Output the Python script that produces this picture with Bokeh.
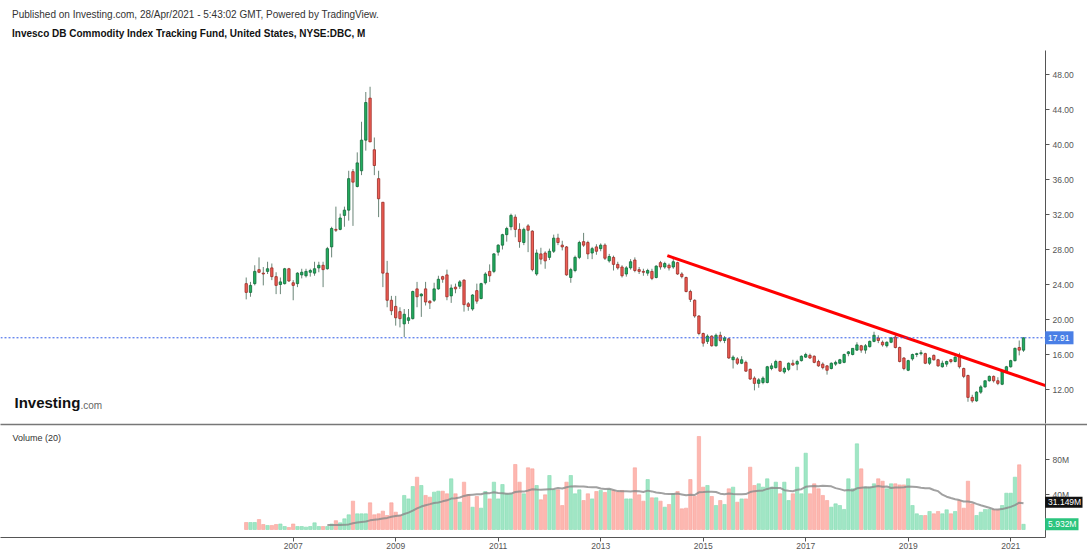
import numpy as np
import pandas as pd
from bokeh.plotting import figure
from bokeh.layouts import column
from bokeh.models import Range1d, FixedTicker, Span, Label, ColumnDataSource
from bokeh.core.properties import value
from bokeh.embed import file_html
from bokeh.resources import INLINE

FONT = "Liberation Sans"

# ---------------- data (monthly, Feb 2006 .. Apr 2021) ----------------
first_month = "2006-02-01"

opens = [24.1,23.1,24.1,25.7,25.3,25.5,25.9,24.9,24.0,24.1,25.8,
 24.2,24.1,25.1,25.0,25.4,25.3,25.9,26.2,25.8,28.3,30.3,30.3,
 31.9,32.5,36.9,35.2,37.0,40.5,45.3,39.4,36.1,33.4,25.3,22.2,
 21.5,20.9,19.5,19.9,20.1,23.5,22.7,23.5,22.1,22.2,23.5,24.9,
 25.1,22.7,23.7,23.8,24.5,21.8,21.2,23.3,22.4,24.2,25.5,25.5,
 27.7,28.5,29.7,30.6,31.7,30.3,28.8,30.7,30.1,25.2,27.5,27.6,
 27.1,27.8,29.3,28.5,28.3,24.8,25.6,27.1,28.9,28.8,27.6,28.3,
 28.1,28.5,26.7,27.1,26.3,26.0,25.2,25.9,26.8,25.7,25.5,25.3,
 25.5,24.8,26.5,26.0,26.2,26.0,26.5,25.2,24.8,23.2,22.2,20.4,
 18.4,17.5,18.1,17.0,18.2,17.6,17.8,15.4,15.5,15.0,15.1,14.3,
 13.3,12.7,12.8,12.8,14.4,14.5,15.2,14.0,14.3,15.0,14.9,15.3,
 15.7,15.9,15.8,15.2,14.9,14.7,14.4,14.9,15.0,15.1,16.1,16.0,
 16.5,17.0,16.5,16.9,17.5,17.9,17.4,17.0,17.4,18.0,16.8,15.6,
 14.2,15.5,16.0,16.1,16.1,15.0,15.9,15.4,14.6,14.9,15.4,15.2,
 15.9,14.4,13.6,11.1,10.7,11.7,12.3,13.0,13.5,13.0,12.6,14.1,
 14.6,15.3,16.8,16.5]

highs = [24.8,24.3,26.2,27.1,26.0,26.6,26.4,25.4,24.8,25.9,25.9,
 24.5,25.4,25.8,25.8,25.8,26.6,26.6,26.6,28.3,30.6,32.9,32.1,
 32.9,37.0,37.2,39.1,42.6,46.0,46.6,40.8,37.0,33.4,26.7,22.7,
 22.7,21.4,21.2,21.2,23.3,24.3,23.0,24.3,22.2,24.2,25.0,25.0,
 25.7,24.0,24.1,24.5,24.6,22.0,22.9,24.1,24.2,25.4,26.3,27.6,
 28.6,29.8,30.6,32.1,32.0,31.0,30.5,30.9,30.2,28.0,28.2,27.8,
 28.1,29.7,29.8,29.0,28.4,25.9,27.3,29.0,29.9,29.0,28.3,28.6,
 28.7,28.7,27.5,27.3,26.6,26.2,26.1,26.9,27.1,26.0,25.8,25.8,
 25.8,26.2,26.7,26.6,26.4,27.0,26.6,25.4,24.9,23.4,22.3,20.5,
 18.5,18.3,18.2,18.4,18.6,18.1,17.9,15.9,15.7,15.8,15.3,14.4,
 13.5,13.3,13.5,14.7,15.0,15.4,15.3,14.6,15.1,15.4,15.4,15.9,
 16.2,16.1,15.9,15.4,15.1,14.8,15.1,15.3,15.5,16.1,16.4,16.7,
 17.4,17.1,17.2,17.6,18.6,18.2,17.6,17.5,18.0,18.4,16.9,15.7,
 15.4,16.1,16.2,16.5,16.2,15.7,16.0,15.5,15.3,15.3,15.5,15.8,
 16.2,14.5,13.7,11.4,11.8,12.5,13.0,13.6,13.6,13.4,14.2,14.7,
 15.4,16.8,17.6,17.95]

lows = [22.3,22.6,23.9,25.3,23.9,25.2,24.5,22.9,22.9,24.0,24.3,
 22.2,23.7,24.7,24.8,24.9,25.0,25.4,23.7,25.7,27.1,30.0,30.2,
 30.6,31.3,30.7,35.1,36.5,39.3,40.3,36.5,31.7,23.7,21.4,20.5,
 19.3,19.1,18.0,19.5,20.0,21.4,20.3,21.6,21.2,22.0,23.4,24.2,
 22.2,21.9,23.0,23.5,20.9,21.0,21.0,21.8,22.3,24.0,24.3,25.3,
 27.3,28.0,28.9,30.2,29.4,28.2,28.5,27.7,25.5,25.0,26.3,25.8,
 26.8,27.6,28.5,27.9,25.0,24.2,25.4,26.9,28.3,26.9,26.9,27.4,
 27.8,26.8,26.5,25.6,25.7,24.8,24.9,25.7,25.4,25.2,25.0,25.0,
 24.5,24.7,25.7,25.8,25.6,25.8,25.1,24.7,23.1,22.0,20.2,18.2,
 16.9,17.2,16.9,16.9,17.4,17.3,15.5,14.4,14.8,14.9,14.0,13.1,
 11.9,12.2,12.6,12.7,14.2,14.4,14.0,13.8,14.1,14.7,14.2,15.2,
 15.6,15.5,15.0,14.6,14.3,13.7,14.3,14.7,14.9,15.0,15.8,15.9,
 16.4,16.2,16.1,16.8,17.4,17.3,16.9,16.8,17.3,16.7,15.1,14.2,
 14.1,15.3,15.7,15.9,14.9,14.8,15.3,14.6,14.5,14.6,15.0,15.1,
 14.4,13.3,10.6,10.5,10.6,11.5,12.2,12.9,12.8,12.5,12.5,14.0,
 14.5,15.2,15.9,16.3]

closes = [23.1,23.9,25.5,25.4,25.2,25.8,24.9,23.9,24.3,25.8,24.4,
 23.9,25.3,25.4,25.5,25.6,25.8,26.2,25.7,28.1,30.4,30.2,31.6,
 32.5,36.1,35.7,37.9,40.5,44.8,40.3,37.6,33.8,25.3,22.2,21.0,
 20.2,20.1,20.6,20.2,23.2,22.6,22.9,22.0,21.9,23.5,24.6,24.6,
 22.6,23.6,23.5,24.3,21.7,21.5,22.8,22.1,24.1,25.2,25.0,27.5,
 28.5,29.7,30.4,31.9,30.3,28.9,30.3,30.2,25.7,27.6,26.9,26.7,
 27.8,29.3,28.8,28.3,25.1,25.7,27.1,28.8,28.5,27.5,28.1,27.8,
 28.5,27.0,27.2,26.3,25.9,25.0,25.9,26.6,25.6,25.5,25.4,25.6,
 24.7,26.1,26.0,26.4,25.9,26.6,25.2,24.9,23.2,22.3,20.4,18.4,
 17.3,18.1,17.0,18.2,17.6,17.9,15.6,15.7,15.0,15.4,14.1,13.2,
 12.7,13.1,13.3,14.6,14.7,15.2,14.1,14.4,15.0,14.8,15.2,15.8,
 16.0,15.6,15.1,14.7,14.5,14.2,15.0,15.1,15.4,16.0,16.3,16.7,
 17.1,16.5,17.0,17.5,18.2,17.6,17.1,17.4,17.9,16.8,15.2,14.4,
 15.3,16.0,16.1,16.2,15.0,15.6,15.4,14.7,15.0,15.2,15.2,15.7,
 14.6,13.5,11.1,10.7,11.7,12.3,13.0,13.5,13.0,12.7,14.1,14.6,
 15.3,16.7,16.5,17.91]

volumes_m = [8.0,8.0,8.0,11.4,5.7,4.6,4.6,5.7,6.3,3.4,2.3,
 6.3,3.4,3.4,2.7,3.4,7.6,3.4,3.4,3.4,6.3,10.1,7.6,
 12.2,16.8,32.4,17.9,17.9,17.9,30.5,16.8,17.9,21.0,16.0,30.5,
 19.8,16.0,38.9,35.0,49.1,59.8,50.3,38.9,37.0,42.7,43.8,43.8,
 40.8,57.9,40.8,31.2,54.1,40.0,25.5,37.7,24.4,43.4,35.0,54.1,
 35.0,51.4,40.8,40.8,74.3,54.1,40.8,70.5,69.3,50.3,33.9,39.6,
 61.7,45.3,45.3,27.4,54.1,61.7,40.8,45.3,33.1,40.8,35.0,43.4,
 44.6,42.3,45.7,44.6,43.0,44.6,35.0,35.0,70.5,39.6,32.4,57.1,
 36.2,36.2,32.4,25.5,28.6,40.8,43.4,23.6,24.4,57.1,38.1,106.3,
 48.4,50.3,37.7,27.4,33.1,28.6,46.5,48.4,31.2,35.0,35.0,71.2,
 50.3,52.2,48.4,57.9,48.4,54.1,40.8,54.1,33.1,40.8,71.2,40.8,
 87.2,40.8,52.2,46.5,38.9,33.1,25.5,29.3,27.4,22.9,57.9,46.5,
 97.9,69.3,48.4,48.4,52.2,57.9,55.2,46.5,52.2,52.2,51.0,51.0,
 57.9,27.4,17.9,16.0,16.0,20.6,17.9,20.6,17.9,22.5,17.9,20.6,
 33.1,24.4,55.2,29.3,16.0,19.8,22.9,22.9,22.5,22.5,27.4,41.5,
 41.5,59.8,73.9,5.932]

last_price = 17.91
last_volume = 5.932
volume_ma_last = 31.149

# trend line drawn on the chart (year, price)
trend_years = [2014.30, 2021.68]
trend_prices = [27.3, 12.45]

price_ticks = [12, 16, 20, 24, 28, 32, 36, 40, 44, 48]
price_tick_labels = ["12.00", "16.00", "20.00", "24.00", "28.00", "32.00", "36.00", "40.00", "44.00", "48.00"]
volume_ticks = [40, 80]
volume_tick_labels = ["40M", "80M"]
year_ticks = [2007, 2009, 2011, 2013, 2015, 2017, 2019, 2021]
year_tick_labels = ["2007", "2009", "2011", "2013", "2015", "2017", "2019", "2021"]

title_line1 = "Published on Investing.com, 28/Apr/2021 - 5:43:02 GMT, Powered by TradingView."
title_line2 = "Invesco DB Commodity Index Tracking Fund, United States, NYSE:DBC, M"

# ---------------- styling ----------------
UP_FILL, UP_LINE = "#22ad5f", "#106b38"
DN_FILL, DN_LINE = "#ef5e55", "#9b2b25"
WICK = "#6a8577"
VUP, VDN = "#a0e6c5", "#fdb7b0"
VUP_L, VDN_L = "#84dbb1", "#f8a39b"
AXIS_C = "#555555"
TXT_C = "#555555"

W = 1087
FRAME_W = 1045
PX_YEAR = 51.25
X0 = 2001.289
X1 = X0 + FRAME_W / PX_YEAR
X_EDGE = X0 + W / PX_YEAR
EPS = 0.4 / PX_YEAR

# ---------------- derived ----------------
dates = pd.date_range(first_month, periods=len(closes), freq="MS")
t = np.asarray(dates.year + (dates.month - 1) / 12.0, dtype=float)
o = np.array(opens); c = np.array(closes)
up = c >= o
src = ColumnDataSource(dict(
    t=t, o=o, h=highs, l=lows, c=c,
    top=np.maximum(o, c), bot=np.minimum(o, c),
    fill=[UP_FILL if u else DN_FILL for u in up],
    line=[UP_LINE if u else DN_LINE for u in up],
    vol=volumes_m,
    vfill=[VUP if u else VDN for u in up],
    vline=[VUP_L if u else VDN_L for u in up],
))
ma = pd.Series(volumes_m).rolling(20).mean()
ma_src = ColumnDataSource(dict(t=t[19:], ma=ma.values[19:]))

xr = Range1d(X0, X1)


def value_tag(fig, yval, text, color, box_px_w, box_px_h, px_per_unit):
    """Coloured last-value tag sitting on the right price/volume scale."""
    half = box_px_h / 2 / px_per_unit
    fig.quad(left=[X1 - EPS], right=[X1 + box_px_w / PX_YEAR], bottom=[yval - half],
             top=[yval + half], fill_color=color, line_color=None, level="overlay")
    fig.text(x=[X1 - EPS], y=[yval], text=[text], x_offset=3, text_color="white",
             text_font=value(FONT), text_font_size="8.5px", text_baseline="middle",
             level="overlay")


# ---------------- header ----------------
h = figure(width=W, height=50, x_range=Range1d(0, W), y_range=Range1d(50, 0),
           output_backend="svg", toolbar_location=None, min_border=0,
           x_axis_location=None, y_axis_location=None, outline_line_color=None)
h.grid.visible = False
h.add_layout(Label(x=12, y=14, text=title_line1, text_font=FONT, text_font_size="10px",
                   text_color="#333333", text_baseline="middle"))
h.add_layout(Label(x=12, y=33, text=title_line2, text_font=FONT, text_font_size="10px",
                   text_font_style="bold", text_color="#111111", text_baseline="middle"))

# ---------------- price panel ----------------
P_TOP, P_BOT = 50, 423
PX_PER = 8.75
y_end = 48 + (74 - P_TOP) / PX_PER
y_start = 48 - (P_BOT - 74) / PX_PER
p = figure(width=W, height=P_BOT - P_TOP, x_range=xr, y_range=Range1d(y_start, y_end),
           output_backend="svg", toolbar_location=None, x_axis_location=None,
           y_axis_location="right", min_border_left=0, min_border_right=W - FRAME_W,
           min_border_top=0, min_border_bottom=0, outline_line_color=None)
p.grid.visible = False
ya = p.yaxis[0]
ya.ticker = FixedTicker(ticks=price_ticks)
ya.major_label_overrides = {float(k): s for k, s in zip(price_ticks, price_tick_labels)}
ya.axis_line_color = AXIS_C
ya.major_tick_line_color = AXIS_C
ya.major_tick_out = 4
ya.major_tick_in = 0
ya.minor_tick_line_color = None
ya.major_label_standoff = 3
ya.major_label_text_font = FONT
ya.major_label_text_font_size = "8.5px"
ya.major_label_text_color = TXT_C

p.add_layout(Span(location=last_price, dimension="width", line_color="#2f5be8",
                  line_dash="2 2", line_width=1))
p.segment(x0="t", y0="l", x1="t", y1="h", source=src, line_color=WICK, line_width=1)
p.vbar(x="t", width=0.55 / 12, top="top", bottom="bot", fill_color="fill",
       line_color="line", line_width=0.8, source=src)
p.line(x=trend_years, y=trend_prices, line_color="#ff0000", line_width=3)

value_tag(p, last_price, f"{last_price:.2f}", "#4a7fe6", 28, 13, PX_PER)

p.add_layout(Label(x=14, y=13, x_units="screen", y_units="screen", text="Investing",
                   text_font=FONT, text_font_size="15px", text_font_style="bold",
                   text_color="#111111"))
p.add_layout(Label(x=80, y=13, x_units="screen", y_units="screen", text=".com",
                   text_font=FONT, text_font_size="10px", text_color="#666666"))

# ---------------- volume panel ----------------
V_TOP, V_BOT, V_ZERO = 423, 537, 529
VPX = 0.875
v_end = (V_ZERO - V_TOP) / VPX
v_start = -(V_BOT - V_ZERO) / VPX
v = figure(width=W, height=555 - V_TOP, x_range=xr, y_range=Range1d(v_start, v_end),
           output_backend="svg", toolbar_location=None, y_axis_location="right",
           min_border_left=0, min_border_right=W - FRAME_W, min_border_top=0,
           min_border_bottom=555 - V_BOT, outline_line_color=None)
v.grid.visible = False
vy = v.yaxis[0]
vy.ticker = FixedTicker(ticks=volume_ticks)
vy.major_label_overrides = {float(k): s for k, s in zip(volume_ticks, volume_tick_labels)}
vx = v.xaxis[0]
vx.ticker = FixedTicker(ticks=year_ticks)
vx.major_label_overrides = {float(k): s for k, s in zip(year_ticks, year_tick_labels)}
for ax in (vy, vx):
    ax.axis_line_color = AXIS_C
    ax.major_tick_line_color = AXIS_C
    ax.major_tick_out = 4
    ax.major_tick_in = 0
    ax.minor_tick_line_color = None
    ax.major_label_text_font = FONT
    ax.major_label_text_font_size = "8.5px"
    ax.major_label_text_color = TXT_C
vy.major_label_standoff = 3
vx.major_label_standoff = 1

# pane separator across the full width
sep_y = v_end - 0.9 / VPX
v.segment(x0=[X0], y0=[sep_y], x1=[X_EDGE], y1=[sep_y], line_color="#777777",
          line_width=1.5, level="overlay")

v.vbar(x="t", width=0.78 / 12, top="vol", bottom=0, fill_color="vfill",
       line_color="vline", line_width=0.6, source=src)
v.line(x="t", y="ma", source=ma_src, line_color="#8a8a8a", line_width=2, line_alpha=0.8)

v.add_layout(Label(x=12, y=100, x_units="screen", y_units="screen", text="Volume (20)",
                   text_font=FONT, text_font_size="9px", text_color="#333333",
                   text_baseline="middle"))
value_tag(v, volume_ma_last, f"{volume_ma_last:.3f}M", "#111111", 37, 11, VPX)
value_tag(v, last_volume, f"{last_volume:.3f}M", "#2bc47e", 33, 12, VPX)

layout = column(h, p, v, spacing=0)
open("out.html", "w").write(file_html(layout, INLINE))
